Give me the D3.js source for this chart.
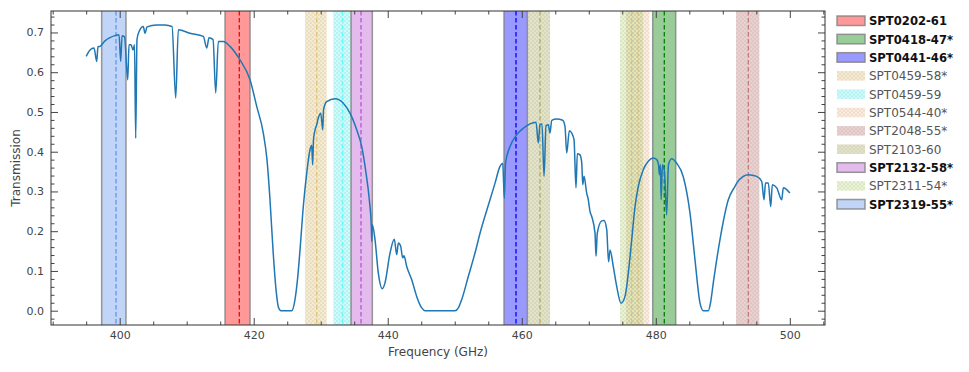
<!DOCTYPE html>
<html>
<head>
<meta charset="utf-8">
<script src="https://cdn.jsdelivr.net/npm/d3@7"></script>
<style>
  body { margin: 0; background: #fff; }
  text { font-family: "DejaVu Sans", sans-serif; }
</style>
</head>
<body>
<div id="chart"></div>
<script>
// atmospheric transmission curve
const freq = [395.0, 395.57, 396.17, 396.57, 396.76, 397.06, 397.81, 398.55, 399.3, 399.9,
  400.15, 400.35, 400.72, 401.2, 401.39, 401.69, 401.99, 402.21, 402.39, 402.58,
  402.88, 403.52, 403.78, 404.08, 405.52, 406.76, 407.81, 408.36, 408.75, 410.49,
  412.48, 412.99, 413.33, 413.93, 414.33, 414.72, 415.46, 416.46, 417.95, 419.45,
  420.45, 421.43, 421.98, 422.43, 422.88, 423.33, 423.7, 424.07, 425.67, 426.16,
  426.53, 426.91, 427.4, 427.91, 428.4, 428.65, 428.8, 428.92, 429.15, 429.4,
  429.64, 430.0, 430.3, 430.42, 430.89, 432.13, 433.37, 434.37, 435.37, 436.12,
  436.76, 437.25, 437.55, 437.61, 437.7, 438.1, 438.59, 439.19, 439.59, 440.34,
  440.98, 441.34, 441.58, 441.93, 442.23, 442.43, 442.83, 443.58, 444.32, 445.07,
  445.56, 450.04, 450.56, 451.04, 452.02, 453.02, 453.77, 455.26, 456.01, 456.75,
  457.16, 457.4, 457.58, 458.25, 459.25, 460.23, 461.23, 462.13, 462.47, 462.72,
  463.02, 463.32, 463.62, 463.96, 464.21, 464.47, 465.21, 466.11, 466.45, 466.71,
  467.1, 467.45, 467.8, 468.09, 468.29, 468.69, 468.95, 469.1, 469.29, 469.69,
  469.93, 470.18, 470.44, 470.93, 471.08, 471.27, 471.93, 472.27, 472.68, 472.95,
  473.17, 473.66, 474.17, 474.81, 475.41, 475.9, 476.41, 476.9, 477.39, 478.14,
  478.88, 479.63, 480.14, 480.41, 480.54, 480.69, 480.8, 480.99, 481.29, 481.62,
  481.89, 482.37, 483.12, 484.1, 485.1, 485.85, 486.6, 487.09, 487.84, 488.17,
  488.58, 489.58, 490.82, 491.82, 492.08, 493.06, 493.81, 495.06, 495.81, 496.15,
  496.37, 496.79, 497.15, 497.39, 498.05, 498.79, 499.03, 499.58, 500.0];
const trans = [0.640, 0.656, 0.661, 0.627, 0.664, 0.665, 0.679, 0.687, 0.692, 0.694,
  0.627, 0.692, 0.689, 0.581, 0.669, 0.669, 0.656, 0.669, 0.434, 0.682,
  0.702, 0.715, 0.698, 0.714, 0.719, 0.719, 0.715, 0.535, 0.707, 0.698,
  0.690, 0.661, 0.687, 0.682, 0.548, 0.677, 0.677, 0.665, 0.631, 0.581,
  0.514, 0.447, 0.380, 0.279, 0.153, 0.053, 0.008, 0.0, 0.0, 0.028,
  0.078, 0.153, 0.262, 0.346, 0.405, 0.416, 0.367, 0.430, 0.455, 0.468,
  0.485, 0.497, 0.455, 0.506, 0.526, 0.533, 0.522, 0.497, 0.455, 0.413,
  0.346, 0.279, 0.212, 0.174, 0.216, 0.179, 0.095, 0.055, 0.070, 0.145,
  0.180, 0.141, 0.170, 0.162, 0.133, 0.138, 0.111, 0.078, 0.036, 0.007,
  0.0, 0.0, 0.008, 0.028, 0.086, 0.145, 0.195, 0.279, 0.321, 0.363,
  0.371, 0.283, 0.372, 0.413, 0.443, 0.459, 0.470, 0.474, 0.422, 0.468,
  0.470, 0.338, 0.465, 0.468, 0.447, 0.479, 0.482, 0.479, 0.464, 0.397,
  0.453, 0.447, 0.430, 0.309, 0.395, 0.392, 0.372, 0.317, 0.338, 0.296,
  0.279, 0.250, 0.237, 0.195, 0.137, 0.195, 0.226, 0.227, 0.204, 0.123,
  0.153, 0.111, 0.061, 0.019, 0.036, 0.095, 0.179, 0.262, 0.313, 0.355,
  0.376, 0.384, 0.380, 0.367, 0.342, 0.367, 0.279, 0.367, 0.350, 0.241,
  0.367, 0.382, 0.371, 0.337, 0.246, 0.128, 0.019, 0.0, 0.0, 0.020,
  0.070, 0.179, 0.279, 0.313, 0.321, 0.338, 0.342, 0.338, 0.325, 0.279,
  0.321, 0.321, 0.262, 0.317, 0.309, 0.279, 0.309, 0.304, 0.296];

// sources: band edges and redshifted line (GHz)
const bandNames = ['SPT0202-61', 'SPT0418-47*', 'SPT0441-46*', 'SPT0459-58*', 'SPT0459-59',
  'SPT0544-40*', 'SPT2048-55*', 'SPT2103-60', 'SPT2132-58*', 'SPT2311-54*', 'SPT2319-55*'];
const bandLo = [415.72, 479.54, 457.35, 427.65, 431.88, 475.56, 491.97, 460.93, 434.52, 474.66, 397.31];
const bandHi = [419.45, 482.97, 460.83, 430.89, 434.62, 479.04, 495.45, 464.22, 437.70, 478.10, 400.94];
const bandLine = [417.85, 481.27, 459.14, 429.40, 433.25, 477.35, 493.81, 462.72, 436.01, 476.40, 399.45];
const bandColor = ['red', 'green', 'blue', 'goldenrod', 'cyan', 'sandybrown', 'brown', 'olive',
  'mediumorchid', 'yellowgreen', 'cornflowerblue'];
const bandSolid = [true, true, true, false, false, false, false, false, true, false, true];

const xTicks = [400, 420, 440, 460, 480, 500];
const yTicks = [0.0, 0.1, 0.2, 0.3, 0.4, 0.5, 0.6, 0.7];

const W = 969, H = 372;
const margin = {top: 11, right: 144, bottom: 47, left: 51};
const x = d3.scaleLinear().domain([389.75, 505.25]).range([margin.left, W - margin.right]);
const y = d3.scaleLinear().domain([-0.036, 0.754]).range([H - margin.bottom, margin.top]);

const svg = d3.select('#chart').append('svg')
  .attr('width', W).attr('height', H);

// dotted hatch like matplotlib '..'
const defs = svg.append('defs');
const pat = defs.append('pattern')
  .attr('id', 'dots')
  .attr('patternUnits', 'userSpaceOnUse')
  .attr('width', 4).attr('height', 4);
pat.append('circle').attr('cx', 1).attr('cy', 1).attr('r', 0.7).attr('fill', '#999');
pat.append('circle').attr('cx', 3).attr('cy', 3).attr('r', 0.7).attr('fill', '#999');

defs.append('clipPath').attr('id', 'plotclip')
  .append('rect')
  .attr('x', margin.left).attr('y', margin.top)
  .attr('width', x.range()[1] - x.range()[0])
  .attr('height', y.range()[0] - y.range()[1]);

const bands = bandNames.map((n, i) => ({
  name: n, lo: bandLo[i], hi: bandHi[i], line: bandLine[i],
  color: bandColor[i], solid: bandSolid[i]
}));

const plot = svg.append('g').attr('clip-path', 'url(#plotclip)');
const plotTop = y.range()[1], plotBottom = y.range()[0];

function dottedRect(g, x0, y0, w, h, color) {
  g.append('rect')
    .attr('x', x0).attr('y', y0).attr('width', w).attr('height', h)
    .attr('fill', color).attr('fill-opacity', 0.22);
  g.append('rect')
    .attr('x', x0).attr('y', y0).attr('width', w).attr('height', h)
    .attr('fill', 'url(#dots)').attr('opacity', 0.45);
}

bands.forEach(function(b) {
  const g = plot.append('g');
  if (b.solid) {
    g.append('rect')
      .attr('x', x(b.lo)).attr('y', plotTop - 2)
      .attr('width', x(b.hi) - x(b.lo)).attr('height', plotBottom - plotTop + 4)
      .attr('fill', b.color).attr('fill-opacity', 0.4)
      .attr('stroke', '#808080').attr('stroke-opacity', 0.8).attr('stroke-width', 1.5);
  } else {
    dottedRect(g, x(b.lo), plotTop, x(b.hi) - x(b.lo), plotBottom - plotTop, b.color);
  }
  g.append('line')
    .attr('x1', x(b.line)).attr('x2', x(b.line))
    .attr('y1', plotTop).attr('y2', plotBottom)
    .attr('stroke', b.color).attr('stroke-opacity', b.solid ? 1 : 0.5)
    .attr('stroke-width', 1.3)
    .attr('stroke-dasharray', '4.5,2.5');
});

// transmission curve
const data = freq.map((f, i) => ({f: f, t: trans[i]}));
const line = d3.line()
  .x(d => x(d.f))
  .y(d => y(d.t))
  .curve(d3.curveMonotoneX);
plot.append('path')
  .datum(data)
  .attr('d', line)
  .attr('fill', 'none')
  .attr('stroke', '#1f77b4')
  .attr('stroke-width', 1.5)
  .attr('stroke-linejoin', 'round');

// axes: ticks pointing inward on all four sides
const tickCol = '#444';
const xMinor = d3.range(390, 506, 5).filter(v => xTicks.indexOf(v) < 0);
const yMinor = d3.range(-2, 38).map(v => v / 50).filter(v => v >= -0.036 && v <= 0.754 && Math.abs(v * 10 - Math.round(v * 10)) > 1e-6);

function axisG(axis, tx, ty) {
  const g = svg.append('g').attr('transform', `translate(${tx},${ty})`).call(axis);
  g.select('.domain').remove();
  g.selectAll('line').attr('stroke', tickCol).attr('stroke-width', 1);
  return g;
}

const xb = axisG(d3.axisBottom(x).tickValues(xTicks).tickSizeInner(-7).tickPadding(6.5).tickFormat(d3.format('d')), 0, plotBottom);
xb.selectAll('text').attr('font-size', 11).attr('fill', '#444');
axisG(d3.axisBottom(x).tickValues(xMinor).tickSizeInner(-3.5).tickFormat(''), 0, plotBottom);
axisG(d3.axisTop(x).tickValues(xTicks).tickSizeInner(-7).tickFormat(''), 0, plotTop);
axisG(d3.axisTop(x).tickValues(xMinor).tickSizeInner(-3.5).tickFormat(''), 0, plotTop);

const yl = axisG(d3.axisLeft(y).tickValues(yTicks).tickSizeInner(-7).tickPadding(7).tickFormat(d3.format('.1f')), margin.left, 0);
yl.selectAll('text').attr('font-size', 11).attr('fill', '#444');
axisG(d3.axisLeft(y).tickValues(yMinor).tickSizeInner(-3.5).tickFormat(''), margin.left, 0);
axisG(d3.axisRight(y).tickValues(yTicks).tickSizeInner(-7).tickFormat(''), x.range()[1], 0);
axisG(d3.axisRight(y).tickValues(yMinor).tickSizeInner(-3.5).tickFormat(''), x.range()[1], 0);

svg.append('rect')
  .attr('x', margin.left).attr('y', plotTop)
  .attr('width', x.range()[1] - x.range()[0]).attr('height', plotBottom - plotTop)
  .attr('fill', 'none').attr('stroke', '#333').attr('stroke-width', 1);

svg.append('text')
  .attr('x', (x.range()[0] + x.range()[1]) / 2).attr('y', 356)
  .attr('text-anchor', 'middle').attr('font-size', 12).attr('fill', '#444')
  .text('Frequency (GHz)');
svg.append('text')
  .attr('transform', `translate(20,${(plotTop + plotBottom) / 2}) rotate(-90)`)
  .attr('text-anchor', 'middle').attr('font-size', 12).attr('fill', '#444')
  .text('Transmission');

// legend
const legend = svg.append('g').attr('transform', 'translate(837,16)');
bands.forEach(function(b, i) {
  const row = legend.append('g').attr('transform', `translate(0,${i * 18.35})`);
  if (b.solid) {
    row.append('rect').attr('width', 28).attr('height', 9.5)
      .attr('fill', b.color).attr('fill-opacity', 0.4)
      .attr('stroke', '#808080').attr('stroke-opacity', 0.8).attr('stroke-width', 1.5);
  } else {
    dottedRect(row, 0, 0, 28, 9.5, b.color);
  }
  row.append('text')
    .attr('x', 32).attr('y', 9.3)
    .attr('font-size', b.solid ? 11.6 : 12)
    .attr('font-weight', b.solid ? 'bold' : 'normal')
    .attr('fill', b.solid ? '#111' : '#555')
    .text(b.name);
});
</script>
</body>
</html>
